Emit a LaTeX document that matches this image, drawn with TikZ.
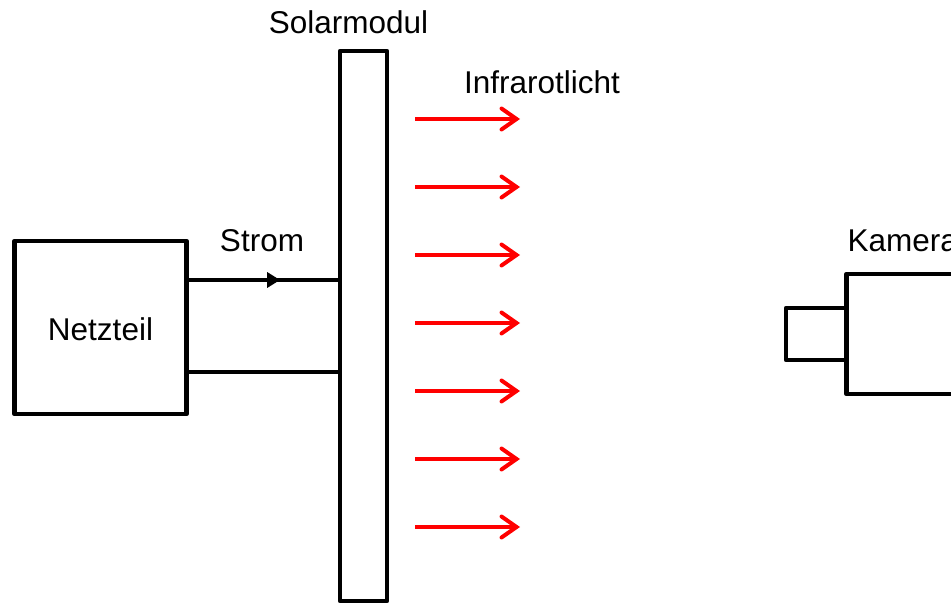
\documentclass[tikz,border=0pt]{standalone}
\usepackage{fontspec}
\setmainfont{Liberation Sans}
\usetikzlibrary{arrows.meta,decorations.markings}
\begin{document}
\begin{tikzpicture}[x=1pt,y=-1pt,
  every node/.style={font=\fontsize{31.5}{37}\selectfont},
  box/.style={draw=black,line width=4.6pt,line join=round,inner sep=0pt,outer sep=0pt,rectangle},
  wire/.style={draw=black,line width=4.6pt},
  ray/.style={draw=red,line width=4pt,-{Straight Barb[length=15pt,width=21pt,line cap=round]}},
  lbl/.style={anchor=base,inner sep=0pt}]
\path[use as bounding box] (0,0) rectangle (951,604);
\clip (0,0) rectangle (951,604);
% boxes
\node[box,minimum width=172pt,minimum height=173pt] (netz) at (100.5,327.5) {};
\node[lbl] (netztxt) at (100.5,340) {Netzteil};
\node[box,minimum width=47pt,minimum height=550pt] (solar) at (363.5,326) {};
\node[lbl] (solartxt) at (348.5,33.5) {Solarmodul};
\node[box,minimum width=163pt,minimum height=120pt] (cam) at (928,334) {};
\node[box,minimum width=60.5pt,minimum height=52pt] (lens) at (816.25,334) {};
\node[lbl,anchor=base west] (camtxt) at (847.5,252) {Kamera};
\node[lbl] (strom) at (262,251.7) {Strom};
\node[lbl] (ir) at (542,93.3) {Infrarotlicht};
% wires
\draw[wire,postaction={decorate},decoration={markings,
  mark=at position 0.61 with {\arrow{Triangle[length=13pt,width=15pt]}}}]
  (netz.east |- 0,280) -- (solar.west |- 0,280);
\draw[wire] (netz.east |- 0,372) -- (solar.west |- 0,372);
% infrared rays
\foreach \i in {0,...,6}{
  \coordinate (rs\i) at (415,119+68*\i);
  \coordinate (re\i) at (520,119+68*\i);
  \draw[ray] (rs\i) -- (re\i);
}
\end{tikzpicture}
\end{document}
